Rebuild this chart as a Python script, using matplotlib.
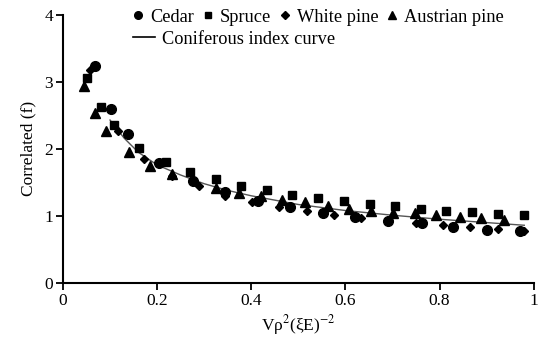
import numpy as np
import matplotlib
matplotlib.use("Agg")
import matplotlib.pyplot as plt
from matplotlib.lines import Line2D

plt.rcParams['font.family'] = ['Liberation Serif', 'DejaVu Serif']
plt.rcParams['mathtext.fontset'] = 'stix'

# values
cedar_x = [0.068, 0.103, 0.138, 0.205, 0.276, 0.345, 0.415, 0.483, 0.552, 0.621,
           0.691, 0.762, 0.829, 0.901, 0.970]
cedar_y = [3.24, 2.59, 2.22, 1.79, 1.52, 1.35, 1.22, 1.13, 1.05, 0.98,
           0.93, 0.89, 0.83, 0.79, 0.77]

spruce_x = [0.051, 0.080, 0.108, 0.161, 0.218, 0.270, 0.325, 0.379, 0.434, 0.487,
            0.542, 0.597, 0.653, 0.705, 0.760, 0.813, 0.869, 0.924, 0.979]
spruce_y = [3.06, 2.63, 2.36, 2.02, 1.80, 1.66, 1.55, 1.45, 1.38, 1.31,
            1.26, 1.22, 1.18, 1.15, 1.11, 1.08, 1.06, 1.03, 1.01]

wpine_x = [0.057, 0.117, 0.172, 0.231, 0.288, 0.345, 0.402, 0.460, 0.519, 0.575,
           0.634, 0.751, 0.808, 0.864, 0.924, 0.979]
wpine_y = [3.17, 2.26, 1.85, 1.59, 1.44, 1.30, 1.21, 1.14, 1.07, 1.02,
           0.97, 0.90, 0.87, 0.83, 0.80, 0.77]

apine_x = [0.044, 0.069, 0.092, 0.140, 0.185, 0.232, 0.326, 0.374, 0.420, 0.466,
           0.514, 0.562, 0.607, 0.655, 0.702, 0.748, 0.793, 0.843, 0.889, 0.936]
apine_y = [2.94, 2.53, 2.27, 1.96, 1.75, 1.62, 1.41, 1.34, 1.30, 1.24,
           1.20, 1.15, 1.11, 1.08, 1.05, 1.04, 1.01, 0.99, 0.97, 0.94]

curve_x = [0.10, 0.13, 0.16, 0.20, 0.25, 0.30, 0.35, 0.40, 0.50, 0.60,
           0.70, 0.80, 0.90, 0.98]
curve_y = [2.43, 2.16, 1.95, 1.76, 1.61, 1.48, 1.38, 1.30, 1.17, 1.08,
           1.01, 0.95, 0.90, 0.86]

fig = plt.figure(figsize=(5.38, 3.45), dpi=100)
ax = fig.add_axes([0.117, 0.180, 0.875, 0.777])

ax.plot(curve_x, curve_y, color='#555555', lw=1.0, zorder=2)
ax.plot(cedar_x, cedar_y, 'o', color='black', ms=7.0, ls='none', zorder=3)
ax.plot(spruce_x, spruce_y, 's', color='black', ms=5.8, ls='none', zorder=3)
ax.plot(wpine_x, wpine_y, 'D', color='black', ms=4.3, ls='none', zorder=3)
ax.plot(apine_x, apine_y, '^', color='black', ms=6.5, ls='none', zorder=3)

ax.set_xlim(0, 1)
ax.set_ylim(0, 4)
ax.set_xticks([0, 0.2, 0.4, 0.6, 0.8, 1])
ax.set_xticklabels(['0', '0.2', '0.4', '0.6', '0.8', '1'])
ax.set_yticks([0, 1, 2, 3, 4])
for s in ['top', 'right']:
    ax.spines[s].set_visible(False)
for s in ['left', 'bottom']:
    ax.spines[s].set_linewidth(1.5)
ax.tick_params(direction='out', length=5, width=1.3, labelsize=12.5, pad=2)
ax.set_xlabel('Vρ$^2$(ξE)$^{-2}$', fontsize=12.5, labelpad=3)
ax.set_ylabel('Correlated (f)', fontsize=12.5, labelpad=6)

h1 = [Line2D([], [], marker='o', color='black', ls='none', ms=5.5),
      Line2D([], [], marker='s', color='black', ls='none', ms=4.2),
      Line2D([], [], marker='D', color='black', ls='none', ms=3.8),
      Line2D([], [], marker='^', color='black', ls='none', ms=5.5)]
fig.legend(h1, ['Cedar', 'Spruce', 'White pine', 'Austrian pine'], ncol=4,
           loc='upper left', bbox_to_anchor=(0.240, 0.985), frameon=False,
           fontsize=13.2, handlelength=0.6, handletextpad=0.35,
           columnspacing=0.45, borderaxespad=0, borderpad=0.2)
h2 = [Line2D([], [], color='black', lw=1.2)]
fig.legend(h2, ['Coniferous index curve'], loc='upper left',
           bbox_to_anchor=(0.240, 0.922), frameon=False, fontsize=13.2,
           handlelength=1.2, handletextpad=0.4, borderaxespad=0, borderpad=0.2)

fig.savefig('out.png', dpi=100)
